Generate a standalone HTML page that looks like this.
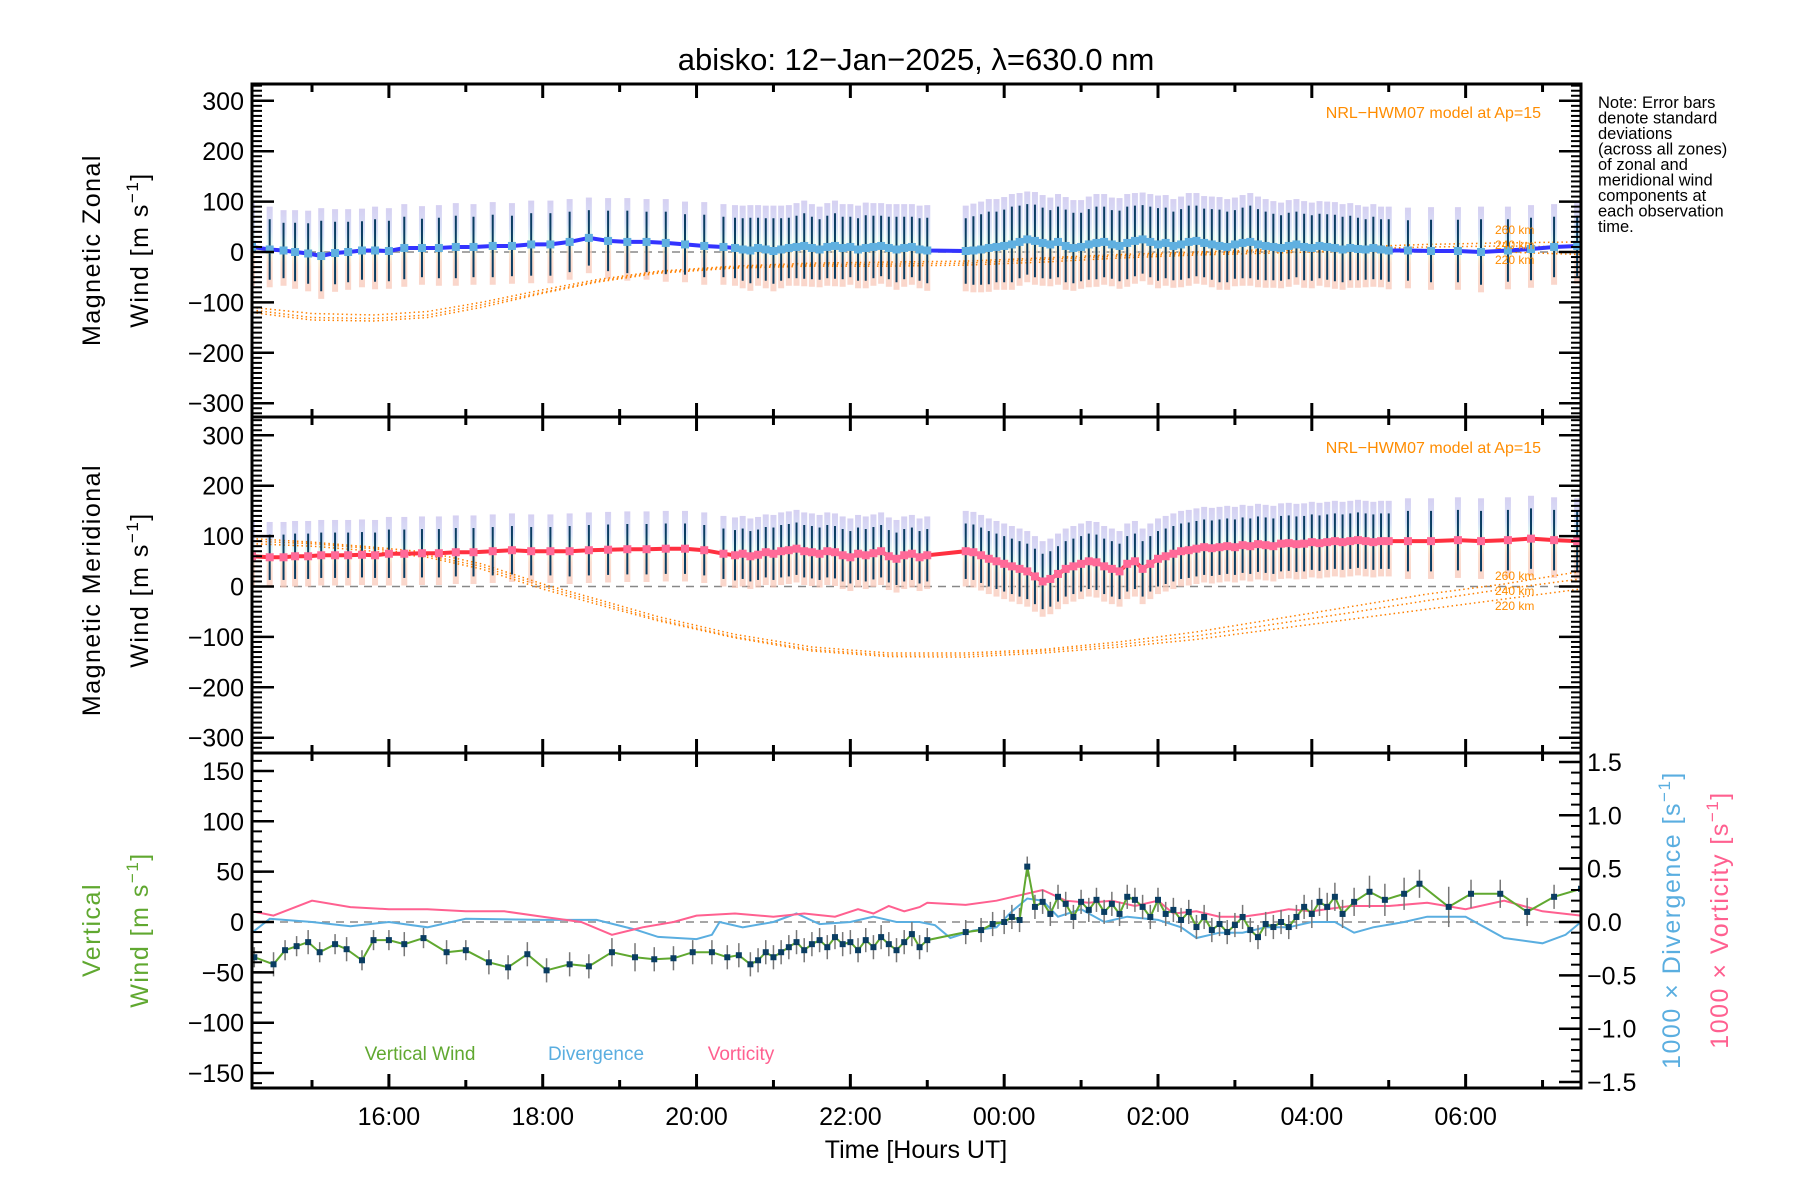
<!DOCTYPE html>
<html><head><meta charset="utf-8"><style>
body{margin:0;background:#fff;}
svg{display:block;font-family:"Liberation Sans",sans-serif;}
</style></head><body>
<svg id="chart" width="1800" height="1200" viewBox="0 0 1800 1200">
<defs>
<linearGradient id="zg" x1="0" y1="0" x2="0" y2="1">
<stop offset="0" stop-color="#c4bcec"/><stop offset="0.3" stop-color="#c8d4f4"/><stop offset="0.45" stop-color="#d4f4ec"/><stop offset="0.55" stop-color="#f4f4c8"/><stop offset="0.7" stop-color="#fad0bc"/><stop offset="1" stop-color="#f8c4b4"/>
</linearGradient>
</defs>
<text x="916" y="70" font-size="31" text-anchor="middle">abisko: 12−Jan−2025, λ=630.0 nm</text>
<g id="layer"></g>
</svg>
<script>
// ---- data (times in hours UT; >24 means next day) ----
const obsT=[14.22,14.45,14.63,14.78,14.95,15.12,15.3,15.47,15.65,15.82,16.0,16.2,16.43,16.65,16.87,17.1,17.35,17.6,17.85,18.1,18.35,18.6,18.85,19.1,19.35,19.6,19.85,20.1,20.35,
20.5,20.6,20.7,20.8,20.9,21.0,21.1,21.2,21.3,21.4,21.5,21.6,21.7,21.8,21.9,22.0,22.1,22.2,22.3,22.4,22.5,22.6,22.7,22.8,22.9,23.0,
23.5,23.6,23.7,23.8,23.9,24.0,24.1,24.2,24.3,24.4,24.5,24.6,24.7,24.8,24.9,25.0,25.1,25.2,25.3,25.4,25.5,25.6,25.7,25.8,25.9,26.0,26.1,26.2,26.3,26.4,26.5,26.6,26.7,26.8,26.9,27.0,27.1,27.2,27.3,27.4,27.5,27.6,27.7,27.8,27.9,28.0,28.1,28.2,28.3,28.4,28.5,28.6,28.7,28.8,28.9,29.0,
29.25,29.55,29.9,30.2,30.55,30.85,31.15,31.45];
const zon=[10,5,3,0,-3,-8,-2,0,3,3,2,8,8,8,10,10,12,12,15,15,20,28,22,20,20,18,15,12,10,
8,5,3,8,5,2,5,8,10,12,8,5,10,12,8,10,5,8,10,12,8,5,8,10,5,3,
2,3,5,8,10,12,15,20,25,22,18,15,20,12,8,10,15,18,20,15,12,18,22,25,20,15,18,12,15,20,22,18,15,12,10,15,18,20,15,12,10,8,12,15,10,8,12,10,8,5,8,6,5,8,5,3,
3,2,2,0,3,6,10,12];
const mer=[60,58,58,60,60,62,62,62,63,62,65,65,66,66,68,68,70,72,70,70,70,72,73,74,74,75,75,72,65,
62,65,60,63,68,65,70,72,75,70,68,65,70,68,62,58,65,62,66,70,60,55,62,65,58,62,
70,68,62,55,50,45,40,35,30,20,10,15,25,35,40,45,50,48,40,35,30,45,50,35,45,55,60,65,70,72,75,78,76,78,80,78,82,80,84,82,80,85,86,84,85,88,86,88,90,88,90,92,90,88,90,90,
90,90,92,90,92,95,92,90];
const zsd=[62,60,55,58,60,70,62,60,58,62,60,62,58,60,62,60,62,60,62,62,60,55,60,62,60,62,60,62,60,
60,62,65,60,62,65,62,60,62,65,62,60,62,65,62,60,62,65,62,60,62,65,62,60,62,65,
65,68,70,72,70,72,75,72,70,72,70,68,70,72,70,68,70,72,70,68,70,72,70,68,70,72,70,68,70,72,70,68,70,72,70,68,70,72,70,68,66,65,66,65,66,65,64,65,66,65,64,62,60,62,60,62,
60,62,62,65,62,62,60,60];
const msd=[45,45,45,45,45,45,45,45,45,45,48,48,48,48,48,48,48,48,48,48,50,50,50,50,50,50,50,50,50,
50,50,50,50,50,52,52,52,52,52,52,52,52,52,52,52,52,52,52,52,52,52,52,52,52,52,
55,55,55,55,55,55,55,55,55,55,55,55,55,55,55,55,55,55,55,55,55,55,55,55,55,55,55,55,55,55,55,55,55,55,55,55,55,55,55,55,55,55,55,55,55,55,55,55,55,55,55,55,55,55,55,55,
60,60,60,60,60,60,60,60];
// model (NRL-HWM07) at 260/240/220 km
const modT=[14.22,15.0,15.8,16.5,17.2,18.0,18.7,19.5,20.5,21.5,22.5,23.5,24.5,25.5,26.5,27.5,28.5,29.5,30.5,31.5];
const modZ260=[-110,-122,-125,-118,-100,-75,-55,-38,-28,-22,-20,-18,-12,-5,0,5,10,15,18,20];
const modZ240=[-115,-130,-132,-125,-105,-80,-58,-40,-30,-25,-24,-22,-15,-8,-3,2,6,10,12,10];
const modZ220=[-120,-135,-137,-130,-110,-82,-60,-42,-32,-28,-28,-26,-20,-12,-6,-2,2,5,0,-5];
const modM260=[95,88,78,68,45,5,-25,-60,-95,-120,-132,-132,-125,-110,-90,-65,-40,-15,5,30];
const modM240=[90,85,75,62,40,0,-30,-65,-100,-125,-136,-136,-128,-115,-98,-75,-52,-28,-5,15];
const modM220=[85,80,70,58,35,-5,-35,-68,-102,-128,-139,-140,-132,-120,-105,-85,-65,-45,-25,-5];
// vertical wind
const vwT=[14.25,14.5,14.65,14.8,14.95,15.1,15.3,15.45,15.65,15.8,16.0,16.2,16.45,16.75,17.0,17.3,17.55,17.8,18.05,18.35,18.6,18.9,19.2,19.45,19.7,19.95,20.2,20.4,20.55,20.7,20.8,20.9,21.0,21.1,21.2,21.3,21.4,21.5,21.6,21.7,21.8,21.9,22.0,22.1,22.2,22.3,22.4,22.5,22.6,22.7,22.8,22.9,23.0,23.5,23.7,23.85,24.0,24.1,24.2,24.3,24.4,24.5,24.6,24.7,24.8,24.9,25.0,25.1,25.2,25.3,25.4,25.5,25.6,25.7,25.8,25.9,26.0,26.1,26.2,26.3,26.4,26.5,26.6,26.7,26.8,26.9,27.0,27.1,27.2,27.3,27.4,27.5,27.6,27.7,27.8,27.9,28.0,28.1,28.2,28.3,28.4,28.55,28.75,28.95,29.2,29.4,29.78,30.07,30.45,30.8,31.15,31.5];
const vw=[-35,-42,-28,-24,-20,-30,-22,-27,-38,-18,-18,-22,-16,-30,-28,-40,-45,-32,-48,-42,-44,-30,-35,-37,-36,-30,-30,-35,-33,-42,-38,-30,-35,-30,-25,-20,-28,-22,-18,-25,-15,-22,-20,-28,-18,-25,-15,-22,-28,-20,-12,-25,-18,-10,-8,-2,0,5,2,55,15,20,8,25,18,5,20,12,22,10,18,8,25,22,15,5,22,8,12,2,10,-5,5,-8,-2,-10,-3,5,-8,-15,-2,-5,0,-5,5,15,8,20,15,25,8,20,30,22,28,38,15,28,28,10,25,33];
const vwErr=[10,12,10,10,12,10,10,12,10,10,10,12,10,12,10,12,12,12,12,12,12,14,14,12,12,12,12,12,12,12,12,12,12,12,12,12,12,12,12,12,12,12,12,12,12,12,12,12,12,12,12,12,12,12,12,12,12,12,12,10,12,12,12,12,12,12,12,12,12,12,12,12,12,12,12,12,12,12,12,12,12,12,12,12,12,12,12,12,12,12,12,12,12,12,12,12,14,14,14,14,14,14,16,16,16,14,20,14,14,14,12,12];
const divT=[14.22,14.45,15.0,15.5,16.0,16.5,17.0,18.0,18.7,19.2,19.5,20.0,20.2,20.3,20.6,21.0,21.3,21.6,22.0,22.3,22.6,22.9,23.1,23.3,23.6,23.9,24.1,24.3,24.5,24.7,25.0,25.3,25.6,26.0,26.3,26.5,26.8,27.1,27.4,27.7,28.0,28.3,28.55,28.8,29.2,29.5,30.0,30.5,31.0,31.3,31.5];
const divV=[-0.1,0.03,0.0,-0.04,0.0,-0.05,0.03,0.02,0.02,-0.07,-0.14,-0.16,-0.12,0.0,-0.05,0.0,0.08,-0.02,0.0,0.05,0.0,0.0,-0.03,-0.15,-0.08,-0.05,0.1,0.22,0.2,0.05,0.12,0.0,0.05,0.02,-0.05,-0.15,-0.1,-0.1,-0.05,-0.05,0.0,0.0,-0.1,-0.05,0.0,0.05,0.05,-0.15,-0.2,-0.12,0.0];
const vorT=[14.22,14.5,15.0,15.5,16.0,16.5,17.0,17.5,18.0,18.5,18.9,19.3,19.7,20.0,20.5,21.0,21.4,21.8,22.1,22.3,22.5,22.7,22.9,23.0,23.5,23.9,24.2,24.5,24.8,25.1,25.4,25.7,26.0,26.2,26.5,26.8,27.1,27.4,27.7,28.0,28.5,29.0,29.5,30.0,30.5,31.0,31.5];
const vorV=[0.1,0.06,0.2,0.14,0.12,0.12,0.1,0.1,0.05,0.0,-0.12,-0.05,0.0,0.06,0.08,0.05,0.08,0.05,0.12,0.08,0.15,0.1,0.14,0.18,0.16,0.2,0.25,0.3,0.2,0.18,0.2,0.15,0.2,0.08,0.1,0.05,0.05,0.08,0.12,0.1,0.15,0.15,0.18,0.12,0.2,0.1,0.06];
const xTickLabels=["16:00","18:00","20:00","22:00","00:00","02:00","04:00","06:00"];
const xTickHours=[16,18,20,22,24,26,28,30];
const yTicks=[300,200,100,0,-100,-200,-300];
const vTicks=[150,100,50,0,-50,-100,-150];
const rTicks=[1.5,1.0,0.5,0.0,-0.5,-1.0,-1.5];

// ---- geometry ----
const L=252,R=1581,T0=14.22,T1=31.5;
const P1={top:84,bot:417,zero:252,k:0.504};
const P2={top:417,bot:753,zero:586.5,k:0.504};
const P3={top:753,bot:1088,zero:922,k:1.007,rk:106.7};
const X=t=>L+(t-T0)/(T1-T0)*(R-L);
const NS='http://www.w3.org/2000/svg';
const layer=document.getElementById('layer');
function mk(tag,attrs,parent){const e=document.createElementNS(NS,tag);for(const k in attrs)e.setAttribute(k,attrs[k]);(parent||layer).appendChild(e);return e;}
function grp(name){const g=mk('g',{});return g;}
function poly(ts,vs,yf){return ts.map((t,i)=>X(t).toFixed(1)+','+yf(vs[i]).toFixed(1)).join(' ');}

['c1','c2','c3'].forEach((id,i)=>{const P=[P1,P2,P3][i];const cp=mk('clipPath',{id:id});mk('rect',{x:L,y:P.top,width:R-L,height:P.bot-P.top},cp);});

function windPanel(P,vals,sds,lineCol,markCol,models,clip,name){
  const Y=v=>P.zero-v*P.k;
  const g=grp(name);g.setAttribute('clip-path','url(#'+clip+')');
  mk('line',{x1:L,x2:R,y1:Y(0),y2:Y(0),stroke:'#888','stroke-width':1.5,'stroke-dasharray':'8,6'},g);
  const cols=grp(name+'-zone-columns');g.appendChild(cols);
  obsT.forEach((t,i)=>{const r=mk('rect',{x:X(t)-3,y:Y(vals[i]+sds[i]+25),width:6,height:(2*sds[i]+40)*P.k,fill:'url(#zg)',opacity:0.7},cols);
    });
  const ms=grp(name+'-models');g.appendChild(ms);
  models.forEach(m=>{const p=mk('polyline',{points:poly(modT,m,Y),fill:'none',stroke:'#ff8000','stroke-width':1.5,'stroke-dasharray':'1.5,3'},ms);
    });
  const eb=grp(name+'-error-bars');g.appendChild(eb);
  obsT.forEach((t,i)=>{const l=mk('line',{x1:X(t),x2:X(t),y1:Y(vals[i]+sds[i]),y2:Y(vals[i]-sds[i]),stroke:'#0a3d62','stroke-width':2},eb);
    });
  const ln=mk('polyline',{points:poly(obsT,vals,Y),fill:'none',stroke:lineCol,'stroke-width':4},g);
  
  obsT.forEach((t,i)=>{const c=mk('rect',{x:X(t)-4,y:Y(vals[i])-4,width:8,height:8,fill:markCol},g);
    });
  return Y;
}
windPanel(P1,zon,zsd,'#3333ff','#60b0e0',[modZ260,modZ240,modZ220],'c1','zonal');
windPanel(P2,mer,msd,'#ff3040','#ff6a98',[modM260,modM240,modM220],'c2','meridional');

(function(){
  const Y=v=>P3.zero-v*P3.k, YR=v=>P3.zero-v*P3.rk;
  const g=grp('vertical-panel');g.setAttribute('clip-path','url(#c3)');
  mk('line',{x1:L,x2:R,y1:Y(0),y2:Y(0),stroke:'#888','stroke-width':1.5,'stroke-dasharray':'8,6'},g);
  const d=mk('polyline',{points:poly(divT,divV,YR),fill:'none',stroke:'#5aaee0','stroke-width':2},g);
  
  const v=mk('polyline',{points:poly(vorT,vorV,YR),fill:'none',stroke:'#ff6090','stroke-width':2},g);
  
  vwT.forEach((t,i)=>{const l=mk('line',{x1:X(t),x2:X(t),y1:Y(vw[i]+vwErr[i]),y2:Y(vw[i]-vwErr[i]),stroke:'#777','stroke-width':1.5},g);
    });
  const w=mk('polyline',{points:poly(vwT,vw,Y),fill:'none',stroke:'#60a830','stroke-width':2},g);
  
  vwT.forEach((t,i)=>{const c=mk('rect',{x:X(t)-3,y:Y(vw[i])-3,width:6,height:6,fill:'#0a3d62'},g);
    });
})();

const ax=grp('axes');
function frame(P,ticks,kf,zero,step,minorStep,lim,name){
  mk('rect',{x:L,y:P.top,width:R-L,height:P.bot-P.top,fill:'none',stroke:'#000','stroke-width':3},ax);
  for(let v=-lim;v<=lim+1e-9;v+=minorStep){const y=zero-v*kf;if(y<P.top+1||y>P.bot-1)continue;
    mk('line',{x1:L,x2:L+10,y1:y,y2:y,stroke:'#000','stroke-width':2},ax);
    if(name!=='v')mk('line',{x1:R-10,x2:R,y1:y,y2:y,stroke:'#000','stroke-width':2},ax);}
  ticks.forEach(v=>{const y=zero-v*kf;
    mk('line',{x1:L,x2:L+22,y1:y,y2:y,stroke:'#000','stroke-width':2.5},ax);
    if(name!=='v')mk('line',{x1:R-22,x2:R,y1:y,y2:y,stroke:'#000','stroke-width':2.5},ax);
    const t=mk('text',{x:L-8,y:y+9,'font-size':25,'text-anchor':'end'},ax);t.textContent=(v<0?'−':'')+Math.abs(v);
    });
  for(let h=15;h<=31;h++){const x=X(h),len=(h%2===0)?14:8;
    mk('line',{x1:x,x2:x,y1:P.top,y2:P.top+len,stroke:'#000','stroke-width':3},ax);
    mk('line',{x1:x,x2:x,y1:P.bot-len,y2:P.bot,stroke:'#000','stroke-width':3},ax);}
}
frame(P1,yTicks,P1.k,P1.zero,100,10,330,'z');
frame(P2,yTicks,P2.k,P2.zero,100,10,330,'m');
frame(P3,vTicks,P3.k,P3.zero,50,10,170,'v');
for(let v=-1.5;v<=1.51;v+=0.1){const y=P3.zero-v*P3.rk;if(y<P3.top||y>P3.bot)continue;
  mk('line',{x1:R-10,x2:R,y1:y,y2:y,stroke:'#000','stroke-width':2},ax);}
rTicks.forEach(v=>{const y=P3.zero-v*P3.rk;
  mk('line',{x1:R-22,x2:R,y1:y,y2:y,stroke:'#000','stroke-width':2.5},ax);
  const t=mk('text',{x:R+6,y:y+9,'font-size':25},ax);t.textContent=(v<0?'−':'')+Math.abs(v).toFixed(1);
  });
xTickHours.forEach((h,i)=>{const t=mk('text',{x:X(h),y:1125,'font-size':25,'text-anchor':'middle'},ax);t.textContent=xTickLabels[i];
  });
</script>
<div style="position:absolute;left:0;top:0;width:1800px;height:1200px;pointer-events:none">
<svg width="1800" height="1200" style="font-family:'Liberation Sans',sans-serif">
<text x="916" y="1158" font-size="25" text-anchor="middle">Time [Hours UT]</text>
<g letter-spacing="1.5">
<text transform="translate(100,250) rotate(-90)" font-size="25" text-anchor="middle">Magnetic Zonal</text>
<text transform="translate(148,250) rotate(-90)" font-size="25" text-anchor="middle">Wind [m s<tspan dy="-10" font-size="17">−1</tspan><tspan dy="10">]</tspan></text>
<text transform="translate(100,590) rotate(-90)" font-size="25" text-anchor="middle">Magnetic Meridional</text>
<text transform="translate(148,590) rotate(-90)" font-size="25" text-anchor="middle">Wind [m s<tspan dy="-10" font-size="17">−1</tspan><tspan dy="10">]</tspan></text>
<text transform="translate(100,930) rotate(-90)" font-size="25" fill="#60a830" text-anchor="middle">Vertical</text>
<text transform="translate(148,930) rotate(-90)" font-size="25" fill="#60a830" text-anchor="middle">Wind [m s<tspan dy="-10" font-size="17">−1</tspan><tspan dy="10">]</tspan></text>
<text transform="translate(1680,920) rotate(-90)" font-size="25" fill="#5aaee0" text-anchor="middle">1000 × Divergence [s<tspan dy="-10" font-size="17">−1</tspan><tspan dy="10">]</tspan></text>
<text transform="translate(1728,920) rotate(-90)" font-size="25" fill="#ff6090" text-anchor="middle">1000 × Vorticity [s<tspan dy="-10" font-size="17">−1</tspan><tspan dy="10">]</tspan></text>
</g>
<text x="420" y="1060" font-size="19" fill="#60a830" text-anchor="middle">Vertical Wind</text>
<text x="596" y="1060" font-size="19" fill="#5aaee0" text-anchor="middle">Divergence</text>
<text x="741" y="1060" font-size="19" fill="#ff6090" text-anchor="middle">Vorticity</text>
<text x="1541" y="118" font-size="16" fill="#ff8c00" text-anchor="end">NRL−HWM07 model at Ap=15</text>
<text x="1541" y="453" font-size="16" fill="#ff8c00" text-anchor="end">NRL−HWM07 model at Ap=15</text>
<g font-size="12" fill="#ff8c00">
<text x="1495" y="234">260 km</text><text x="1495" y="249">240 km</text><text x="1495" y="264">220 km</text>
<text x="1495" y="580">260 km</text><text x="1495" y="595">240 km</text><text x="1495" y="610">220 km</text>
</g>
<g font-size="16.5">
<text x="1598" y="108">Note: Error bars</text><text x="1598" y="123.5">denote standard</text><text x="1598" y="139">deviations</text><text x="1598" y="154.5">(across all zones)</text><text x="1598" y="170">of zonal and</text><text x="1598" y="185.5">meridional wind</text><text x="1598" y="201">components at</text><text x="1598" y="216.5">each observation</text><text x="1598" y="232">time.</text>
</g>
</svg></div>
</body></html>
